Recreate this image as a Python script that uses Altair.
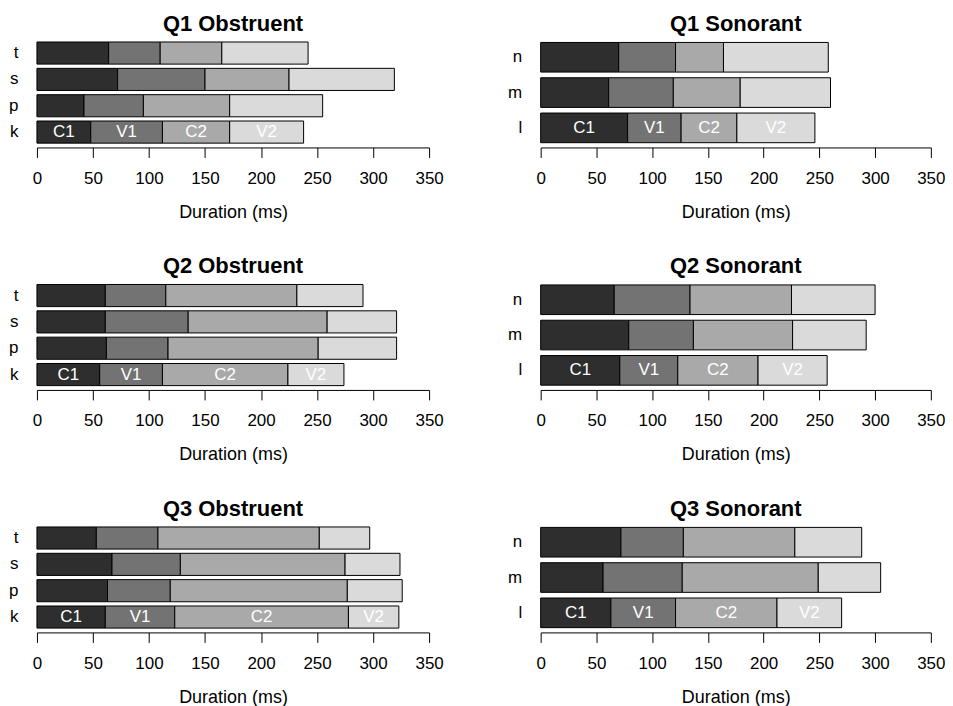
import altair as alt
import pandas as pd

FONT = "Liberation Sans"

segments = ["C1", "V1", "C2", "V2"]
seg_colors = ["#2e2e2e", "#737373", "#a9a9a9", "#dadada"]

obstruents = ["t", "s", "p", "k"]
sonorants = ["n", "m", "l"]

# durations (ms) per consonant: C1, V1, C2, V2
q1_obstruent = {"t": [64, 46, 55, 77], "s": [72, 78, 75, 94],
                "p": [42, 53, 77, 83], "k": [48, 64, 60, 66]}
q1_sonorant = {"n": [70, 51, 43, 94], "m": [61, 58, 60, 81],
               "l": [78, 48, 50, 70]}
q2_obstruent = {"t": [61, 54, 117, 59], "s": [61, 74, 124, 62],
                "p": [62, 55, 134, 70], "k": [56, 56, 112, 50]}
q2_sonorant = {"n": [66, 68, 91, 75], "m": [79, 58, 89, 66],
               "l": [71, 52, 72, 62]}
q3_obstruent = {"t": [53, 55, 144, 45], "s": [67, 61, 147, 49],
                "p": [63, 56, 158, 49], "k": [61, 62, 155, 45]}
q3_sonorant = {"n": [72, 56, 100, 60], "m": [56, 71, 122, 56],
               "l": [63, 58, 91, 58]}

tick_values = [0, 50, 100, 150, 200, 250, 300, 350]

H = 104


def panel(title, data, order, width):
    rows = []
    for cons in order:
        start = 0
        for seg, dur in zip(segments, data[cons]):
            rows.append({"cons": cons, "seg": seg, "start": start,
                         "end": start + dur,
                         "label": seg if cons == order[-1] else ""})
            start += dur
    df = pd.DataFrame(rows)
    x = alt.X("start:Q",
              scale=alt.Scale(domain=[0, 350], nice=False, zero=True),
              axis=alt.Axis(values=tick_values, title="Duration (ms)",
                            grid=False, domainColor="black", tickColor="black",
                            domainWidth=1, tickWidth=1, tickSize=10, offset=3,
                            labelFontSize=17, labelFont=FONT, labelColor="black",
                            labelPadding=13, labelFlush=False,
                            titleFontSize=18, titleFont=FONT,
                            titleFontWeight="normal", titleColor="black",
                            titlePadding=17))
    y = alt.Y("cons:N", sort=order,
              scale=alt.Scale(paddingInner=0.16, paddingOuter=0.05),
              axis=alt.Axis(title=None, domain=False, ticks=False, grid=False,
                            labelFontSize=17, labelFont=FONT,
                            labelColor="black", labelPadding=19,
                            labelAlign="right"))
    bars = alt.Chart(df).mark_bar(stroke="black", strokeWidth=1).encode(
        x=x, x2="end:Q", y=y,
        color=alt.Color("seg:N", sort=segments,
                        scale=alt.Scale(domain=segments, range=seg_colors),
                        legend=None),
    )
    text = alt.Chart(df).transform_filter(
        alt.datum.label != ""
    ).transform_calculate(
        mid="(datum.start + datum.end) / 2"
    ).mark_text(color="white", fontSize=17, font=FONT,
                baseline="middle", align="center").encode(
        x=alt.X("mid:Q", scale=alt.Scale(domain=[0, 350], nice=False)),
        y=alt.Y("cons:N", sort=order),
        text="label:N",
    )
    return alt.layer(bars, text).properties(
        width=width, height=H,
        title=alt.TitleParams(title, fontSize=22, font=FONT,
                              fontWeight="bold", color="black",
                              anchor="middle", baseline="alphabetic",
                              offset=-12),
    )


def row(q, obs, son):
    return alt.hconcat(panel(f"{q} Obstruent", obs, obstruents, 393),
                       panel(f"{q} Sonorant", son, sonorants, 391),
                       spacing=62.8)


chart = alt.vconcat(
    row("Q1", q1_obstruent, q1_sonorant),
    row("Q2", q2_obstruent, q2_sonorant),
    row("Q3", q3_obstruent, q3_sonorant),
    spacing=34,
).properties(
    padding={"left": 0, "top": 4, "right": 0, "bottom": 0},
    background="white",
).configure_view(stroke=None)

chart.save("out.html", embed_options={"renderer": "svg", "actions": False})
